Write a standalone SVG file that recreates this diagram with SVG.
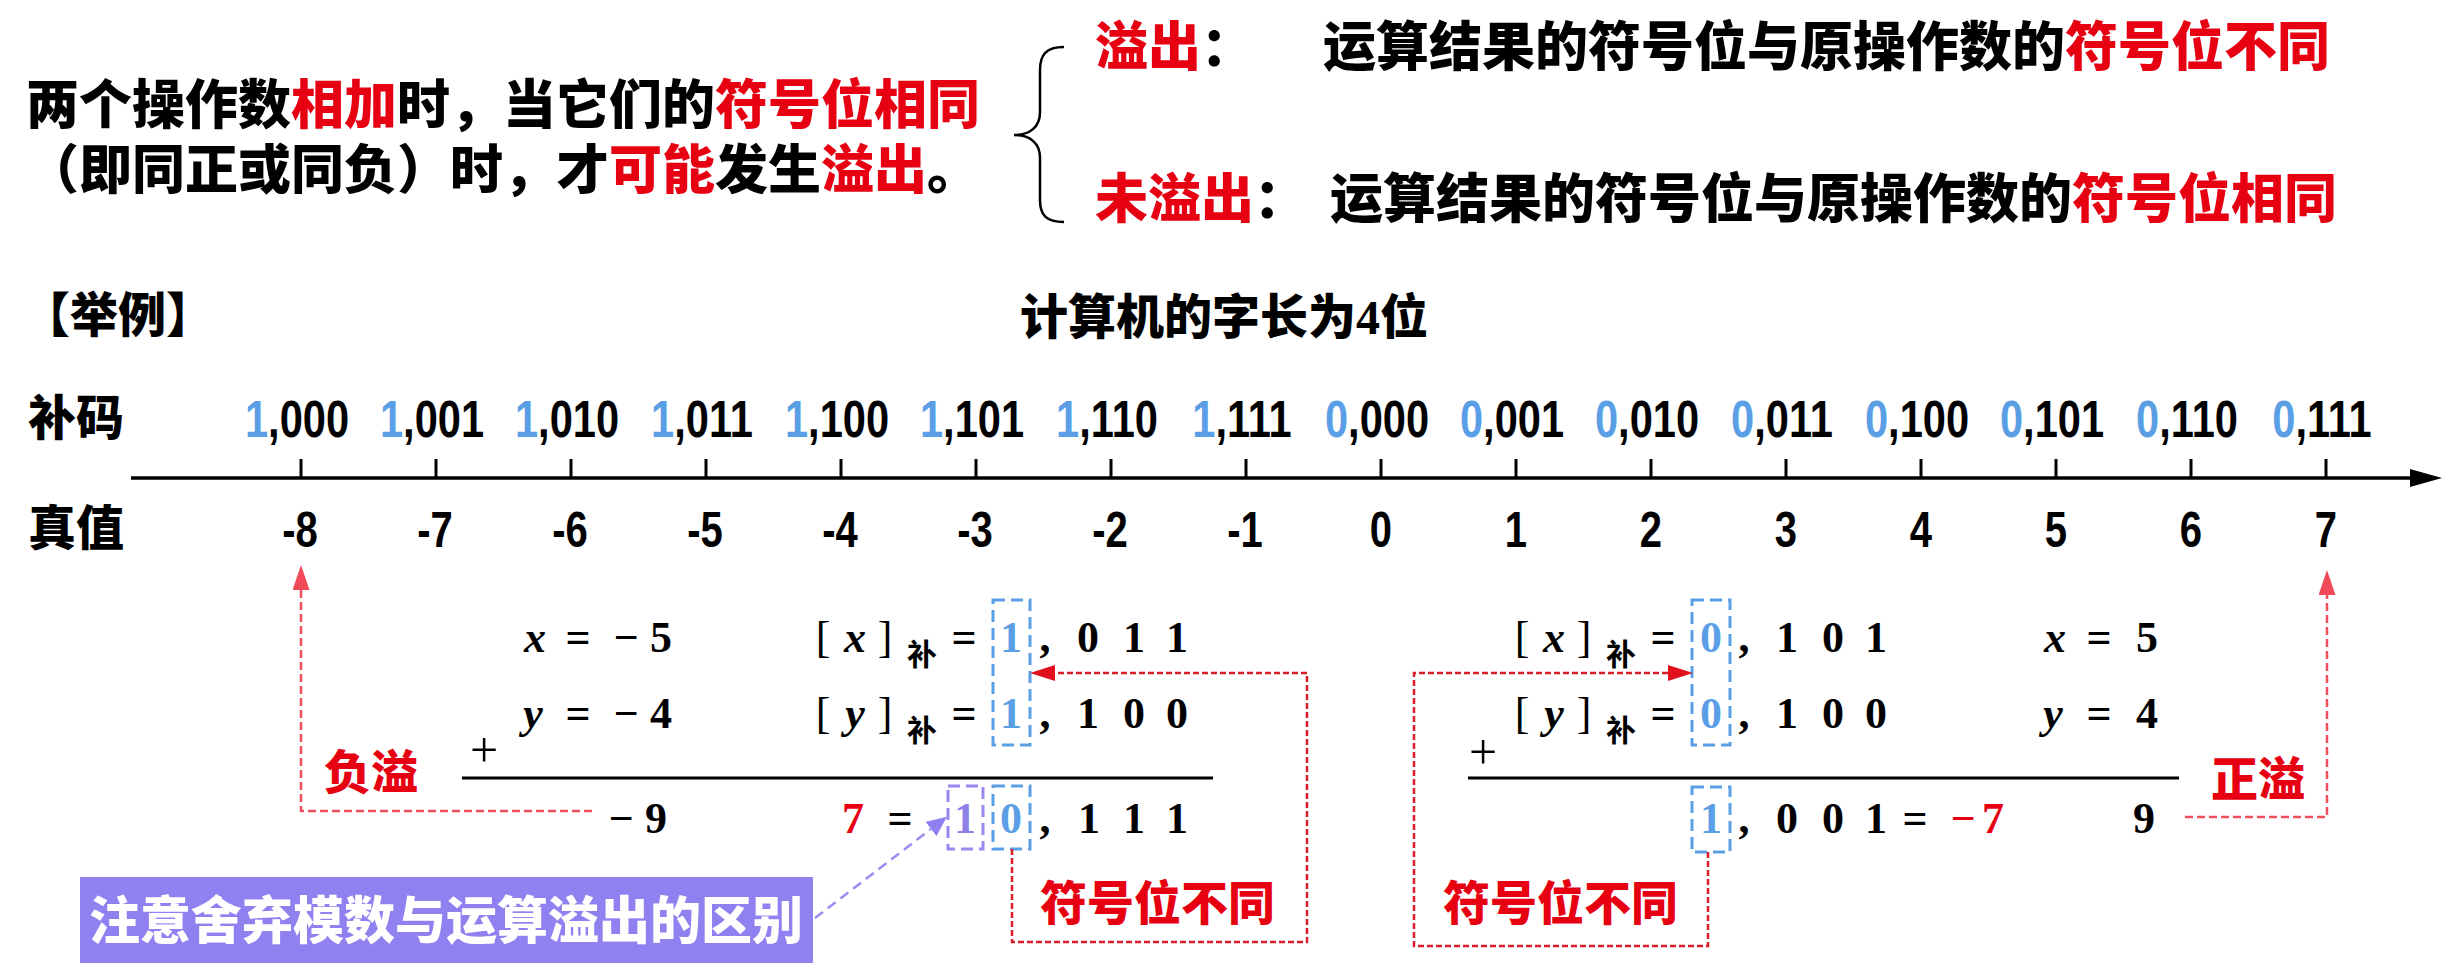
<svg xmlns="http://www.w3.org/2000/svg" width="2454" height="978" viewBox="0 0 2454 978">
<style>
.cjk{font-family:'Noto Sans CJK SC','Noto Sans',sans-serif;font-weight:900}
.red{fill:#e60012}
.blue{fill:#5a9fe6}
.lbl{font-family:'Liberation Sans',Arial,sans-serif;font-weight:700;font-size:52px;text-anchor:middle}
.val{font-family:'Liberation Sans',Arial,sans-serif;font-weight:700;font-size:50px;text-anchor:middle}
.math{font-family:'Liberation Serif','Times New Roman',serif;font-weight:700;font-size:44px;text-anchor:middle}
.it{font-style:italic}
.sub{font-family:'Noto Sans CJK SC',sans-serif;font-weight:700;font-size:30px;text-anchor:middle}
.bbox{fill:none;stroke:#5a9fe6;stroke-width:3;stroke-dasharray:12 6}
.pbox{fill:none;stroke:#9a88f2;stroke-width:3;stroke-dasharray:12 6}
.loop{fill:none;stroke:#d81e28;stroke-width:2.5;stroke-dasharray:6 3}
.ovf{fill:none;stroke:#f0505c;stroke-width:2.5;stroke-dasharray:8 4}
.parr{fill:none;stroke:#9a8cf0;stroke-width:2.5;stroke-dasharray:10 6}
</style>
<defs>
<marker id="mRed" markerUnits="userSpaceOnUse" markerWidth="25" markerHeight="16" viewBox="0 0 25 16" refX="0" refY="8" orient="auto"><path d="M0,0 L25,8 L0,16 z" fill="#e0101c"/></marker>
<marker id="mOvf" markerUnits="userSpaceOnUse" markerWidth="25" markerHeight="17" viewBox="0 0 25 17" refX="0" refY="8.5" orient="auto"><path d="M0,0 L25,8.5 L0,17 z" fill="#f04a58"/></marker>
<marker id="mPur" markerUnits="userSpaceOnUse" markerWidth="20" markerHeight="18" viewBox="0 0 20 18" refX="0" refY="9" orient="auto"><path d="M0,0 L20,9 L0,18 z" fill="#8f80ef"/></marker>
</defs>
<rect width="2454" height="978" fill="#ffffff"/>

<g id="intro" class="cjk" font-size="53">
<text><tspan x="26" y="124">两个操作数</tspan><tspan class="red">相加</tspan><tspan>时，当它们的</tspan><tspan class="red">符号位相同</tspan><tspan x="26" y="189">（即同正或同负）时，才</tspan><tspan class="red">可能</tspan><tspan>发生</tspan><tspan class="red">溢出</tspan><tspan>。</tspan></text>
</g>

<g id="brace"><path d="M1064,47 C1046,47 1040,55 1040,70 L1040,112 C1040,127 1030,135 1014,135 C1030,135 1040,143 1040,158 L1040,200 C1040,215 1046,222 1064,222" fill="none" stroke="#000" stroke-width="2.5"/></g>

<g id="overflow-rule" class="cjk" font-size="53">
<text x="1095" y="66"><tspan class="red">溢出</tspan>：</text>
<text x="1323" y="66">运算结果的符号位与原操作数的<tspan class="red">符号位不同</tspan></text>
</g>
<g id="no-overflow-rule" class="cjk" font-size="53">
<text x="1095" y="218"><tspan class="red">未溢出</tspan>：</text>
<text x="1330" y="218">运算结果的符号位与原操作数的<tspan class="red">符号位相同</tspan></text>
</g>

<g id="example-title" class="cjk">
<text x="22" y="332" font-size="48">【举例】</text>
<text x="1020" y="334" font-size="48">计算机的字长为<tspan font-family="'Liberation Serif',serif">4</tspan>位</text>
</g>

<g id="axis">
<text class="cjk" x="28" y="435" font-size="48">补码</text>
<text class="cjk" x="28" y="545" font-size="48">真值</text>
<line x1="131" y1="478" x2="2414" y2="478" stroke="#000" stroke-width="3.5"/>
<polygon points="2442,478 2410,469 2410,487" fill="#000"/>
<g stroke="#000" stroke-width="3">
<line x1="301" y1="459" x2="301" y2="478"/><line x1="436" y1="459" x2="436" y2="478"/>
<line x1="571" y1="459" x2="571" y2="478"/><line x1="706" y1="459" x2="706" y2="478"/>
<line x1="841" y1="459" x2="841" y2="478"/><line x1="976" y1="459" x2="976" y2="478"/>
<line x1="1111" y1="459" x2="1111" y2="478"/><line x1="1246" y1="459" x2="1246" y2="478"/>
<line x1="1381" y1="459" x2="1381" y2="478"/><line x1="1516" y1="459" x2="1516" y2="478"/>
<line x1="1651" y1="459" x2="1651" y2="478"/><line x1="1786" y1="459" x2="1786" y2="478"/>
<line x1="1921" y1="459" x2="1921" y2="478"/><line x1="2056" y1="459" x2="2056" y2="478"/>
<line x1="2191" y1="459" x2="2191" y2="478"/><line x1="2326" y1="459" x2="2326" y2="478"/>
</g>
<g class="lbl">
<text transform="translate(297 437) scale(0.8 1)"><tspan class="blue">1</tspan>,000</text>
<text transform="translate(432 437) scale(0.8 1)"><tspan class="blue">1</tspan>,001</text>
<text transform="translate(567 437) scale(0.8 1)"><tspan class="blue">1</tspan>,010</text>
<text transform="translate(702 437) scale(0.8 1)"><tspan class="blue">1</tspan>,011</text>
<text transform="translate(837 437) scale(0.8 1)"><tspan class="blue">1</tspan>,100</text>
<text transform="translate(972 437) scale(0.8 1)"><tspan class="blue">1</tspan>,101</text>
<text transform="translate(1107 437) scale(0.8 1)"><tspan class="blue">1</tspan>,110</text>
<text transform="translate(1242 437) scale(0.8 1)"><tspan class="blue">1</tspan>,111</text>
<text transform="translate(1377 437) scale(0.8 1)"><tspan class="blue">0</tspan>,000</text>
<text transform="translate(1512 437) scale(0.8 1)"><tspan class="blue">0</tspan>,001</text>
<text transform="translate(1647 437) scale(0.8 1)"><tspan class="blue">0</tspan>,010</text>
<text transform="translate(1782 437) scale(0.8 1)"><tspan class="blue">0</tspan>,011</text>
<text transform="translate(1917 437) scale(0.8 1)"><tspan class="blue">0</tspan>,100</text>
<text transform="translate(2052 437) scale(0.8 1)"><tspan class="blue">0</tspan>,101</text>
<text transform="translate(2187 437) scale(0.8 1)"><tspan class="blue">0</tspan>,110</text>
<text transform="translate(2322 437) scale(0.8 1)"><tspan class="blue">0</tspan>,111</text>
</g>
<g class="val">
<text transform="translate(300 547) scale(0.8 1)">-8</text>
<text transform="translate(435 547) scale(0.8 1)">-7</text>
<text transform="translate(570 547) scale(0.8 1)">-6</text>
<text transform="translate(705 547) scale(0.8 1)">-5</text>
<text transform="translate(840 547) scale(0.8 1)">-4</text>
<text transform="translate(975 547) scale(0.8 1)">-3</text>
<text transform="translate(1110 547) scale(0.8 1)">-2</text>
<text transform="translate(1245 547) scale(0.8 1)">-1</text>
<text transform="translate(1381 547) scale(0.8 1)">0</text>
<text transform="translate(1516 547) scale(0.8 1)">1</text>
<text transform="translate(1651 547) scale(0.8 1)">2</text>
<text transform="translate(1786 547) scale(0.8 1)">3</text>
<text transform="translate(1921 547) scale(0.8 1)">4</text>
<text transform="translate(2056 547) scale(0.8 1)">5</text>
<text transform="translate(2191 547) scale(0.8 1)">6</text>
<text transform="translate(2326 547) scale(0.8 1)">7</text>
</g>
</g>

<g id="negative-example">
<g class="math">
<text y="652"><tspan x="535" class="it">x</tspan><tspan x="578">=</tspan><tspan x="626">−</tspan><tspan x="661">5</tspan></text>
<text y="728"><tspan x="533" class="it">y</tspan><tspan x="578">=</tspan><tspan x="626">−</tspan><tspan x="661">4</tspan></text>
<text y="652" font-weight="400"><tspan x="823">[</tspan><tspan x="885">]</tspan></text>
<text y="652"><tspan x="855" class="it">x</tspan><tspan x="964">=</tspan><tspan x="1011" class="blue">1</tspan><tspan x="1045">,</tspan><tspan x="1088">0</tspan><tspan x="1134">1</tspan><tspan x="1177">1</tspan></text>
<text y="728" font-weight="400"><tspan x="823">[</tspan><tspan x="885">]</tspan></text>
<text y="728"><tspan x="855" class="it">y</tspan><tspan x="964">=</tspan><tspan x="1011" class="blue">1</tspan><tspan x="1045">,</tspan><tspan x="1088">1</tspan><tspan x="1134">0</tspan><tspan x="1177">0</tspan></text>
<text x="484" y="767" font-weight="400" font-size="50">+</text>
<text y="833"><tspan x="621">−</tspan><tspan x="656">9</tspan><tspan x="853" class="red">7</tspan><tspan x="900">=</tspan><tspan x="965" fill="#8f80e8">1</tspan><tspan x="1011" class="blue">0</tspan><tspan x="1045">,</tspan><tspan x="1089">1</tspan><tspan x="1134">1</tspan><tspan x="1177">1</tspan></text>
</g>
<text class="sub" x="922" y="665">补</text>
<text class="sub" x="922" y="741">补</text>
<line x1="462" y1="778" x2="1213" y2="778" stroke="#000" stroke-width="3"/>
<rect class="bbox" x="993" y="600" width="37" height="145"/>
<rect class="pbox" x="948" y="786" width="35" height="63"/>
<rect class="bbox" x="993" y="786" width="37" height="63"/>
<text class="cjk red" x="324" y="789" font-size="47">负溢</text>
<text class="cjk red" x="1040" y="920" font-size="47">符号位不同</text>
</g>

<g id="positive-example">
<g class="math">
<text y="652" font-weight="400"><tspan x="1522">[</tspan><tspan x="1584">]</tspan></text>
<text y="652"><tspan x="1554" class="it">x</tspan><tspan x="1663">=</tspan><tspan x="1711" class="blue">0</tspan><tspan x="1744">,</tspan><tspan x="1787">1</tspan><tspan x="1833">0</tspan><tspan x="1876">1</tspan></text>
<text y="652"><tspan x="2055" class="it">x</tspan><tspan x="2099">=</tspan><tspan x="2147">5</tspan></text>
<text y="728" font-weight="400"><tspan x="1522">[</tspan><tspan x="1584">]</tspan></text>
<text y="728"><tspan x="1554" class="it">y</tspan><tspan x="1663">=</tspan><tspan x="1711" class="blue">0</tspan><tspan x="1744">,</tspan><tspan x="1787">1</tspan><tspan x="1833">0</tspan><tspan x="1876">0</tspan></text>
<text y="728"><tspan x="2053" class="it">y</tspan><tspan x="2099">=</tspan><tspan x="2147">4</tspan></text>
<text x="1483" y="769" font-weight="400" font-size="50">+</text>
<text y="833"><tspan x="1711" class="blue">1</tspan><tspan x="1744">,</tspan><tspan x="1787">0</tspan><tspan x="1833">0</tspan><tspan x="1876">1</tspan><tspan x="1915">=</tspan><tspan x="1963" class="red">−</tspan><tspan x="1993" class="red">7</tspan><tspan x="2144">9</tspan></text>
</g>
<text class="sub" x="1621" y="665">补</text>
<text class="sub" x="1621" y="741">补</text>
<line x1="1468" y1="778" x2="2179" y2="778" stroke="#000" stroke-width="3"/>
<rect class="bbox" x="1692" y="600" width="38" height="145"/>
<rect class="bbox" x="1692" y="787" width="38" height="65"/>
<text class="cjk red" x="2211" y="796" font-size="47">正溢</text>
<text class="cjk red" x="1443" y="920" font-size="47">符号位不同</text>
</g>

<g id="note">
<rect x="80" y="877" width="733" height="86" fill="#9081f0"/>
<text class="cjk" x="446" y="939" font-size="51" fill="#ffffff" text-anchor="middle">注意舍弃模数与运算溢出的区别</text>
</g>

<g id="connectors">
<path class="loop" d="M1012,849 V942 H1307 V673 H1055" marker-end="url(#mRed)"/>
<path class="loop" d="M1708,852 V946 H1414 V673 H1668" marker-end="url(#mRed)"/>
<path class="ovf" d="M592,811 H301 V590" marker-end="url(#mOvf)"/>
<path class="ovf" d="M2185,817 H2327 V595" marker-end="url(#mOvf)"/>
<path class="parr" d="M815,918 L931,829" marker-end="url(#mPur)"/>
</g>
</svg>
